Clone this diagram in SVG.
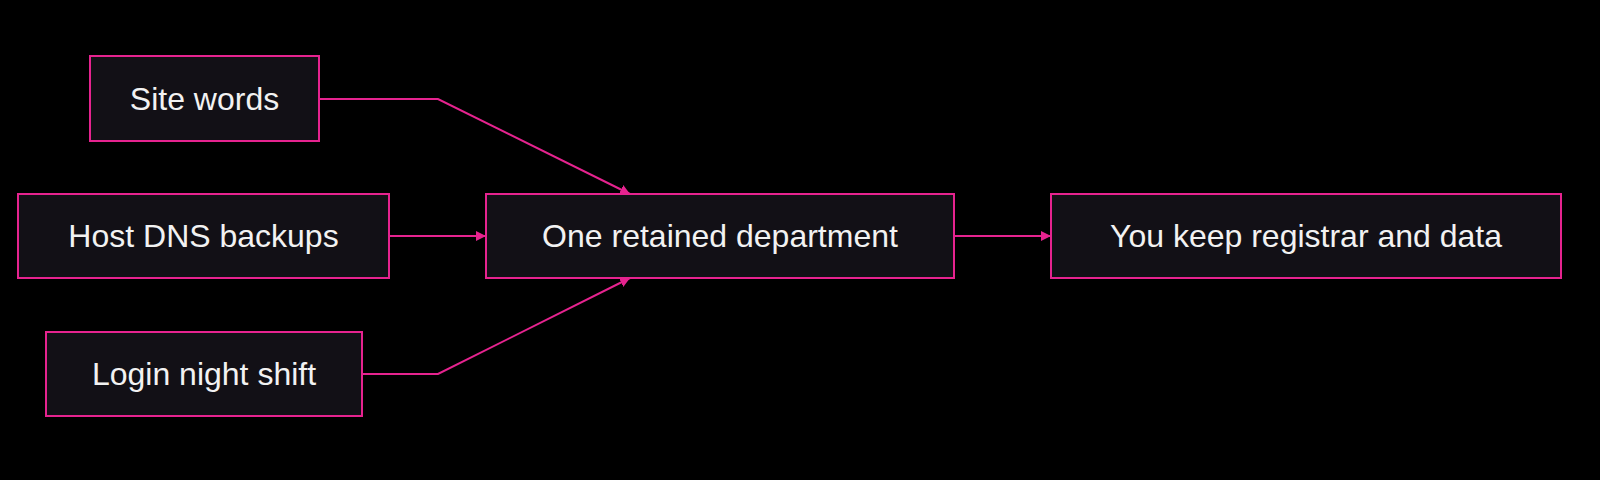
<svg xmlns="http://www.w3.org/2000/svg" width="1600" height="480" viewBox="0 0 1600 480">
<style>
.n rect{fill:#121016;stroke:#e6238f;stroke-width:2}
.n text{fill:#f2f2f2;font-family:"Liberation Sans",Arial,sans-serif;font-size:32px;text-anchor:middle;dominant-baseline:central}
.e path{fill:none;stroke:#e6238f;stroke-width:2}
</style>
<defs><marker id="a" viewBox="0 0 10 10" refX="10" refY="5" markerWidth="10" markerHeight="10" markerUnits="userSpaceOnUse" orient="auto"><path d="M0,0L10,5L0,10z" fill="#e6238f"/></marker></defs>
<rect width="1600" height="480" fill="#000"/>
<g class="e">
<path d="M319,99H438L630,194" marker-end="url(#a)" style="marker-end:url(#a)"/>
<path d="M389,236H486" marker-end="url(#a)"/>
<path d="M362,374H438L630,278" marker-end="url(#a)"/>
<path d="M954,236H1051" marker-end="url(#a)"/>
</g>
<g class="n" id="site"><rect x="90" y="56" width="229" height="85"/><text x="204.5" y="98.5">Site words</text></g>
<g class="n" id="host"><rect x="18" y="194" width="371" height="84"/><text x="203.5" y="236">Host DNS backups</text></g>
<g class="n" id="login"><rect x="46" y="332" width="316" height="84"/><text x="204" y="374">Login night shift</text></g>
<g class="n" id="dept"><rect x="486" y="194" width="468" height="84"/><text x="720" y="236">One retained department</text></g>
<g class="n" id="keep"><rect x="1051" y="194" width="510" height="84"/><text x="1306" y="236">You keep registrar and data</text></g>
</svg>
